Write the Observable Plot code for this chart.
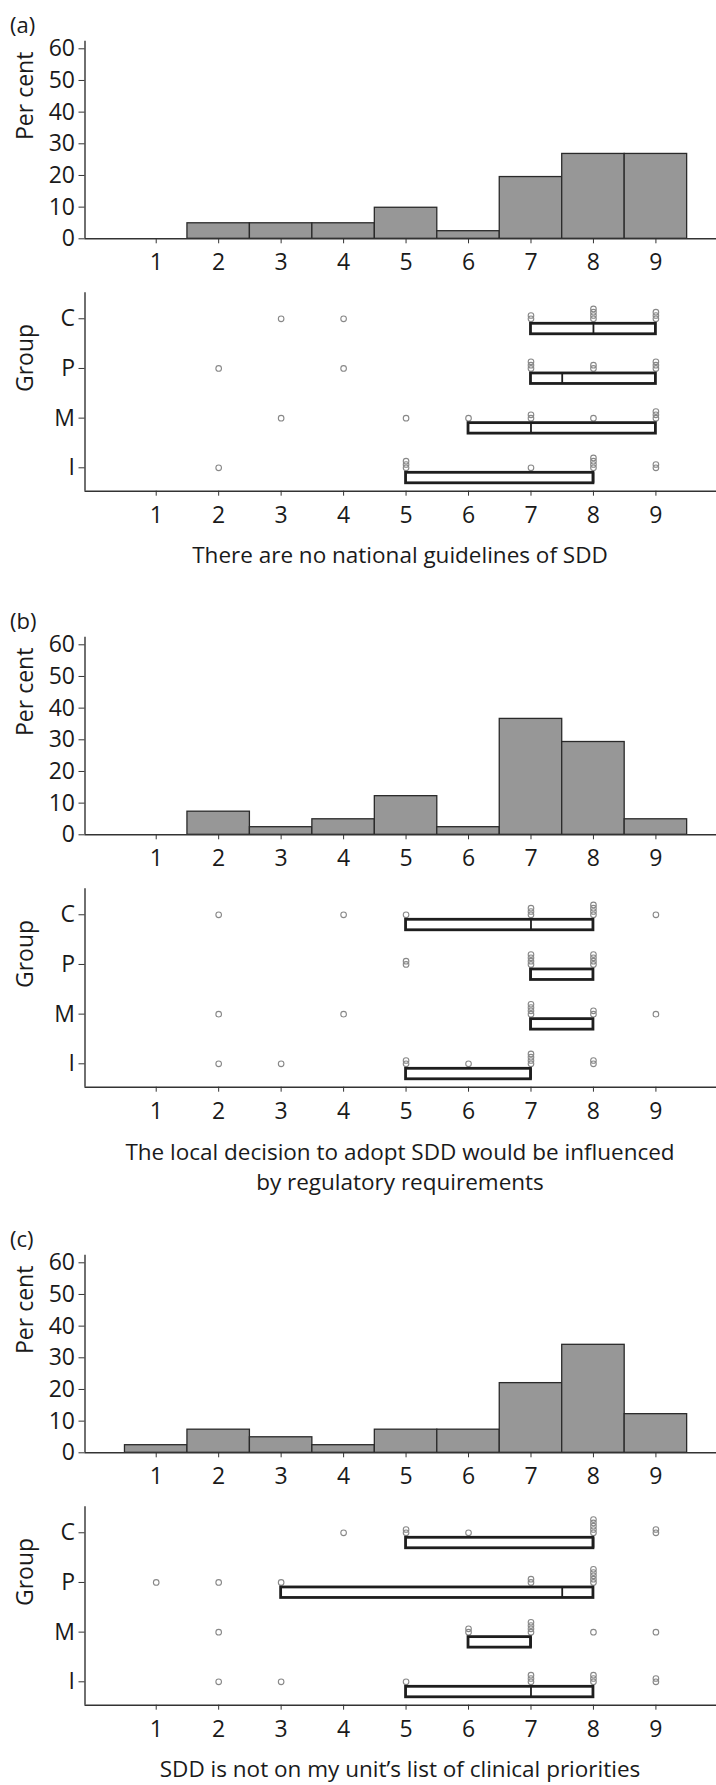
<!DOCTYPE html>
<html><head><meta charset="utf-8">
<script src="https://cdn.jsdelivr.net/npm/d3@7"></script>
<script src="https://cdn.jsdelivr.net/npm/@observablehq/plot@0.6"></script>
<style>
body{margin:0;background:#fff;}
#root{position:relative;width:716px;height:1785px;font-family:"Open Sans",sans-serif;color:#1a1a1a;overflow:hidden;}
.panel{position:absolute;left:0;width:716px;height:600px;}
.tag{position:absolute;left:10px;font-size:22px;line-height:22px;}
.cap{position:absolute;left:84px;width:632px;text-align:center;font-size:22.5px;line-height:30px;height:30px;white-space:nowrap;}
.panel svg{position:absolute;left:0;}
</style></head><body><div id="root"></div>
<script>
// ---------- data ----------
const scores = [1,2,3,4,5,6,7,8,9];
const groups = ["C","P","M","I"];
const yTicks = [0,10,20,30,40,50,60];
const panelTags = ["(a)","(b)","(c)"];
const captions = [
  ["There are no national guidelines of SDD"],
  ["The local decision to adopt SDD would be influenced","by regulatory requirements"],
  ["SDD is not on my unit\u2019s list of clinical priorities"]
];
// histogram: per cent of respondents for scores 1..9
const pctA = [0, 4.9, 4.9, 4.9, 9.8, 2.4, 19.5, 26.8, 26.8];
const pctB = [0, 7.3, 2.4, 4.9, 12.2, 2.4, 36.6, 29.3, 4.9];
const pctC = [2.4, 7.3, 4.9, 2.4, 7.3, 7.3, 22.0, 34.1, 12.2];
// respondents by group for scores 1..9 (C, P, M, I)
const countsA_C = [0,0,1,1,0,0,2,4,3];
const countsA_P = [0,1,0,1,0,0,3,2,3];
const countsA_M = [0,0,1,0,1,1,2,1,3];
const countsA_I = [0,1,0,0,3,0,1,4,2];
const countsB_C = [0,1,0,1,1,0,3,4,1];
const countsB_P = [0,0,0,0,2,0,4,4,0];
const countsB_M = [0,1,0,1,0,0,4,2,1];
const countsB_I = [0,1,1,0,2,1,4,2,0];
const countsC_C = [0,0,0,1,2,1,0,5,2];
const countsC_P = [1,1,1,0,0,0,2,5,0];
const countsC_M = [0,1,0,0,0,2,4,1,1];
const countsC_I = [0,1,1,0,1,0,3,3,2];
// box plots (C, P, M, I): lower quartile, median, upper quartile
const boxA_q1 = [7,7,6,5], boxA_med = [8,7.5,7,8], boxA_q3 = [9,9,9,8];
const boxB_q1 = [5,7,7,5], boxB_med = [7,7,7,7], boxB_q3 = [8,8,8,7];
const boxC_q1 = [5,3,6,5], boxC_med = [8,7.5,7,7], boxC_q3 = [8,8,7,8];

// ---------- layout ----------
const W = 716, ML = 84.5;
const XDOM = [-0.14, 9.97];
const panelTop = [0, 596, 1214];
const capCenters = [[555], [555.5, 585.5], [555]];
const ROWPX = 49.67;               // pixels between group rows
const STEP = 3.3 / ROWPX;          // stacked-dot offset
const BOX_T = 5 / ROWPX, BOX_B = 15.5 / ROWPX;
const FONT = '"Open Sans", sans-serif';
const FS = 23;
const AX = "#333";

function makePanel(i, pct, counts, q1, med, q3) {
  const root = document.getElementById("root");
  const div = document.createElement("div");
  div.className = "panel";
  div.style.top = panelTop[i] + "px";
  root.appendChild(div);

  const tag = document.createElement("div");
  tag.className = "tag"; tag.style.top = "13px"; tag.textContent = panelTags[i];
  div.appendChild(tag);

  const histData = scores.map((s, j) => ({s, p: pct[j]})).filter(d => d.p > 0);
  const hist = Plot.plot({
    width: W, height: 275, marginLeft: ML, marginRight: 0, marginTop: 40.7, marginBottom: 36.7,
    style: {fontFamily: FONT, fontSize: FS + "px", color: "#1a1a1a", background: "transparent", overflow: "visible"},
    x: {domain: XDOM},
    y: {domain: [0, 62.4]},
    marks: [
      Plot.rect(histData, {x1: d => d.s - 0.5, x2: d => d.s + 0.5, y1: 0, y2: "p",
        fill: "#979797", stroke: "#2a2a2a", strokeWidth: 1.3}),
      Plot.ruleY([0], {stroke: AX, strokeWidth: 1.4}),
      Plot.ruleX([XDOM[0]], {stroke: AX, strokeWidth: 1.4}),
      Plot.axisX({ticks: scores, tickSize: 5, tickPadding: 10, label: null, tickFormat: d => String(d), stroke: AX}),
      Plot.axisY({ticks: yTicks, tickSize: 6, tickPadding: 4, label: null, stroke: AX}),
      Plot.text(["Per cent"], {text: d => d, frameAnchor: "left", rotate: -90, dx: -59.5, fontSize: FS, fill: "#1a1a1a"})
    ]
  });
  hist.style.top = "0px";
  div.appendChild(hist);

  const dotData = [];
  groups.forEach((g, gi) => {
    const row = 3 - gi;
    counts[gi].forEach((n, j) => {
      for (let k = 0; k < n; k++) dotData.push({x: scores[j], y: row + k * STEP});
    });
  });
  const boxData = groups.map((g, gi) => ({row: 3 - gi, q1: q1[gi], med: med[gi], q3: q3[gi]}));
  const dots = Plot.plot({
    width: W, height: 265, marginLeft: ML, marginRight: 0, marginTop: 17.3, marginBottom: 49.3,
    style: {fontFamily: FONT, fontSize: FS + "px", color: "#1a1a1a", background: "transparent", overflow: "visible"},
    x: {domain: XDOM},
    y: {domain: [-0.471, 3.523]},
    marks: [
      Plot.dot(dotData, {x: "x", y: "y", r: 2.8, stroke: "#888", strokeWidth: 1.1, fill: "none"}),
      Plot.rect(boxData, {x1: "q1", x2: "q3", y1: d => d.row - BOX_T, y2: d => d.row - BOX_B,
        fill: "none", stroke: "#1e1e1e", strokeWidth: 2.8}),
      Plot.ruleX(boxData, {x: "med", y1: d => d.row - BOX_T, y2: d => d.row - BOX_B, stroke: "#1e1e1e", strokeWidth: 1.8}),
      Plot.ruleY([-0.471], {stroke: AX, strokeWidth: 1.4}),
      Plot.ruleX([XDOM[0]], {stroke: AX, strokeWidth: 1.4}),
      Plot.axisX({ticks: scores, tickSize: 5, tickPadding: 10, label: null, tickFormat: d => String(d), stroke: AX}),
      Plot.axisY({ticks: [0,1,2,3], tickSize: 6, tickPadding: 4, label: null, tickFormat: d => groups[3 - d], stroke: AX}),
      Plot.text(["Group"], {text: d => d, frameAnchor: "left", rotate: -90, dx: -59.5, fontSize: FS, fill: "#1a1a1a"})
    ]
  });
  dots.style.top = "275px";
  div.appendChild(dots);

  captions[i].forEach((line, li) => {
    const cap = document.createElement("div");
    cap.className = "cap";
    cap.style.top = (capCenters[i][li] - 15) + "px";
    cap.textContent = line;
    div.appendChild(cap);
  });
}

makePanel(0, pctA, [countsA_C, countsA_P, countsA_M, countsA_I], boxA_q1, boxA_med, boxA_q3);
makePanel(1, pctB, [countsB_C, countsB_P, countsB_M, countsB_I], boxB_q1, boxB_med, boxB_q3);
makePanel(2, pctC, [countsC_C, countsC_P, countsC_M, countsC_I], boxC_q1, boxC_med, boxC_q3);
</script></body></html>
